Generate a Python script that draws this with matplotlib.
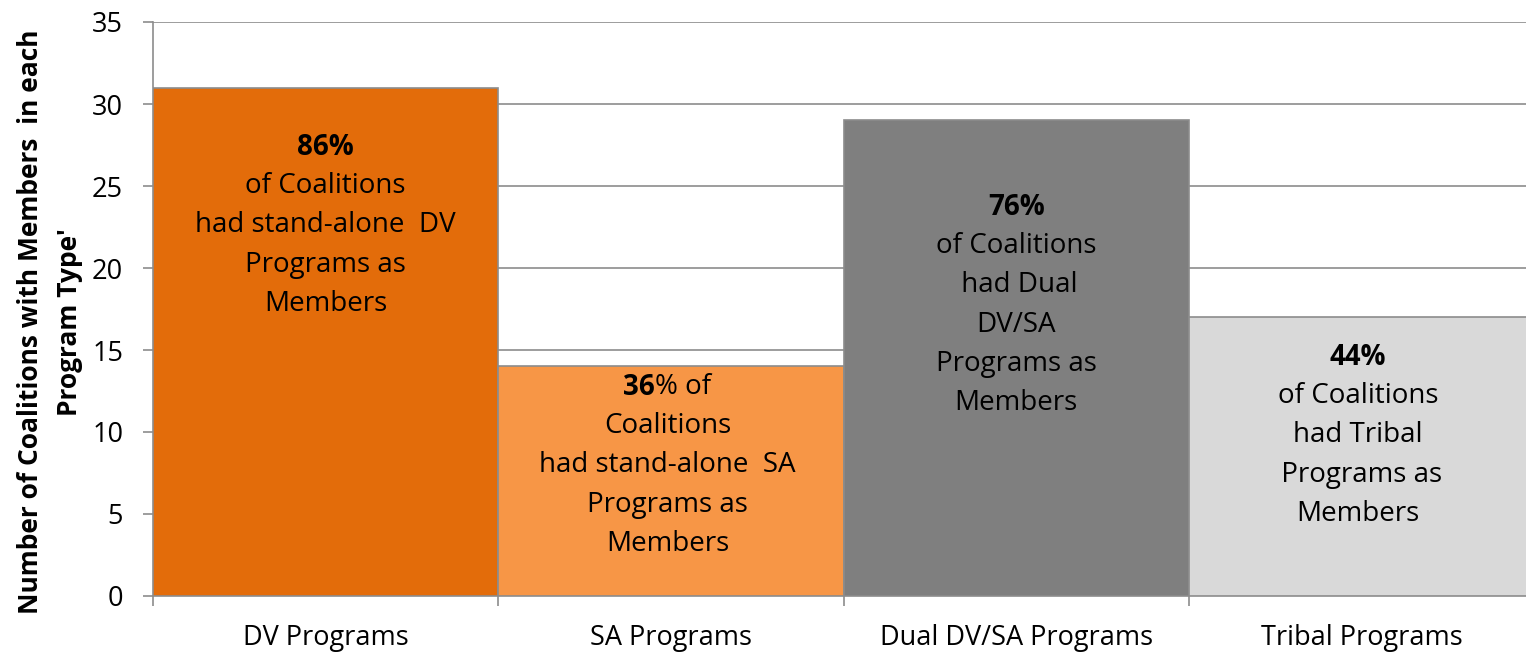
import matplotlib
matplotlib.use("Agg")
import matplotlib.pyplot as plt

categories = ["DV Programs", "SA Programs", "Dual DV/SA Programs", "Tribal Programs"]
values = [31, 14, 29, 17]
pct_bold = ["86%", "36", "76%", "44%"]
pct_rest = ["", "% of", "", ""]
label_lines = [
    ["of Coalitions", "had stand-alone  DV", "Programs as", "Members"],
    ["Coalitions", "had stand-alone  SA", "Programs as", "Members"],
    ["of Coalitions", " had Dual", "DV/SA", "Programs as", "Members"],
    ["of Coalitions", "had Tribal", " Programs as", "Members"],
]
colors = ["#E36C0A", "#F79646", "#7F7F7F", "#D9D9D9"]
yticks = [0, 5, 10, 15, 20, 25, 30, 35]

plt.rcParams['font.family'] = ['Open Sans', 'DejaVu Sans']
W, H = 1526, 652
fig = plt.figure(figsize=(W/100, H/100), dpi=100)
ax = fig.add_axes([153/W, 1-596/H, (1534-153)/W, (596-22)/H])

x = list(range(len(categories)))
ax.bar(x, values, width=1.0, color=colors, edgecolor="#8C8C8C", linewidth=1.2, zorder=3)
ax.set_xlim(-0.5, 3.5)
ax.set_ylim(0, 35)
ax.set_yticks(yticks)
ax.set_yticklabels([str(v) for v in yticks], fontsize=19.5)
ax.yaxis.grid(True, color="#8C8C8C", linewidth=1.2, zorder=0)
ax.set_xticks(x)
ax.set_xticklabels(categories, fontsize=19.5)
ax.set_xticks([-0.5, 0.5, 1.5, 2.5, 3.5], minor=True)
ax.tick_params(axis='x', which='major', length=0, pad=20)
ax.tick_params(axis='x', which='minor', length=7.5, color="#8C8C8C", width=1.2, direction='out')
ax.tick_params(axis='y', length=7.5, color="#8C8C8C", width=1.2, pad=14)
for s in ["top", "right"]:
    ax.spines[s].set_visible(False)
ax.spines["left"].set_color("#8C8C8C")
ax.spines["left"].set_linewidth(1.2)
ax.spines["bottom"].set_color("#8C8C8C")
ax.spines["bottom"].set_linewidth(1.2)

ax.set_ylabel("Number of Coalitions with Members  in each\nProgram Type'", fontsize=19,
              fontweight='bold', linespacing=1.55)
ax.yaxis.set_label_coords(-0.051, 0.478)

# label layout (pixel rows of first line, centre x in data units)
first_line_px = [147, 387, 207, 357]
centre_x = [0, 0.99, 2.0, 2.99]
line_gap = 39.2
fs = 20
fig.canvas.draw()
r = fig.canvas.get_renderer()
def ypix_to_data(yp):
    return (596 - yp) / (574 / 35)

for i in range(len(categories)):
    y0 = ypix_to_data(first_line_px[i])
    if pct_rest[i]:
        tb = ax.text(0, 0, pct_bold[i], fontsize=fs, fontweight='bold')
        tr = ax.text(0, 0, pct_rest[i], fontsize=fs)
        wb = tb.get_window_extent(r).width
        wr = tr.get_window_extent(r).width
        tb.remove(); tr.remove()
        ppd = (1534 - 153) / 4.0
        start = centre_x[i] - (wb + wr) / 2 / ppd
        ax.text(start, y0, pct_bold[i], fontsize=fs, fontweight='bold', ha='left', va='center', zorder=5)
        ax.text(start + wb / ppd, y0, pct_rest[i], fontsize=fs, ha='left', va='center', zorder=5)
    else:
        ax.text(centre_x[i], y0, pct_bold[i], fontsize=fs, fontweight='bold', ha='center', va='center', zorder=5)
    for j, line in enumerate(label_lines[i]):
        yp = first_line_px[i] + (j + 1) * line_gap
        ax.text(centre_x[i], ypix_to_data(yp), line, fontsize=fs, ha='center', va='center', zorder=5)

fig.savefig("out.png", dpi=100)
